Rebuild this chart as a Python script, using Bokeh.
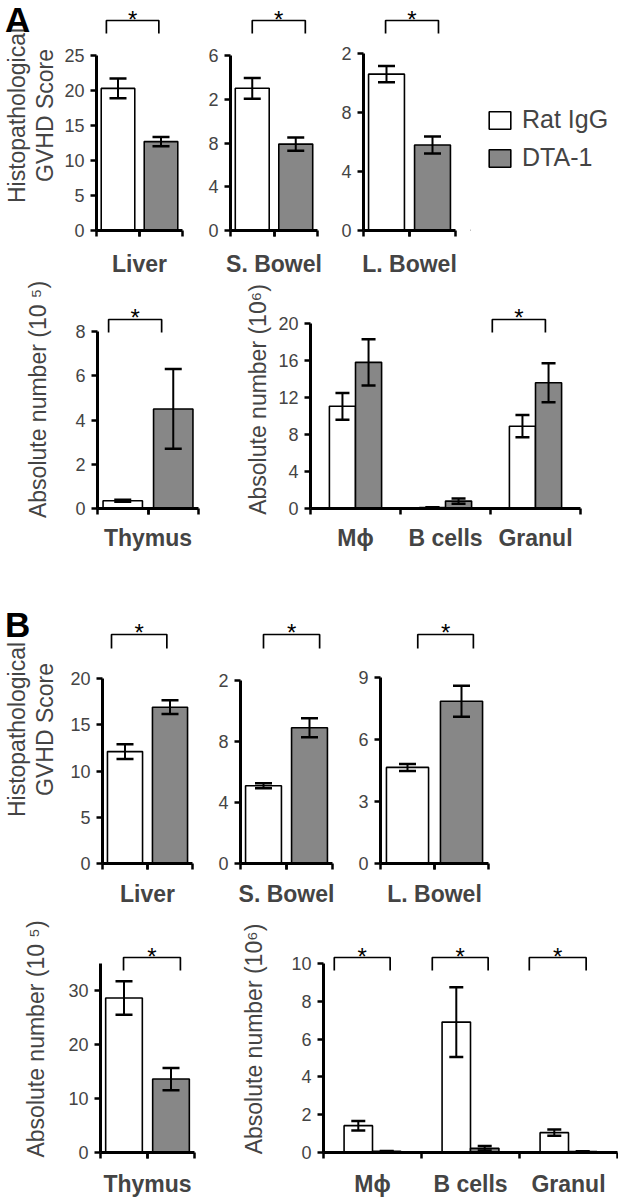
from bokeh.plotting import figure
from bokeh.models import (ColumnDataSource, FixedTicker, LinearAxis, Range1d, Whisker,
                          TeeHead, Legend, LegendItem, Div, GridBox)
from bokeh.layouts import row, column
from bokeh.embed import file_html
from bokeh.resources import INLINE
from bokeh.core.properties import value

# ------------------------------------------------------------------ data
GROUPS = ["Rat IgG", "DTA-1"]
HIST_ORGANS = ["Liver", "S. Bowel", "L. Bowel"]
THYMUS = ["Thymus"]
CELL_TYPES = ["M\u03d5", "B cells", "Granul"]
HIST_YLABEL = ["Histopathological", "GVHD Score"]
THYMUS_YLABEL = "Absolute number (10 \u2075)"
CELLS_YLABEL = "Absolute number (10\u2076)"
PANEL_LETTERS = ["A", "B"]

# Panel A
A_hist_ratigg = [20.3, 13.0, 10.6]
A_hist_ratigg_err = [1.4, 0.95, 0.55]
A_hist_dta1 = [12.7, 7.9, 5.8]
A_hist_dta1_err = [0.65, 0.6, 0.58]
A_hist_yticks = [[0, 5, 10, 15, 20, 25], [0, 4, 8, 12, 16], [0, 4, 8, 12]]
A_hist_yticklabels = [["0", "5", "10", "15", "20", "25"], ["0", "4", "8", "2", "6"], ["0", "4", "8", "2"]]
A_hist_sig = [True, True, True]

A_thymus_ratigg = [0.35]
A_thymus_ratigg_err = [0.05]
A_thymus_dta1 = [4.5]
A_thymus_dta1_err = [1.8]
A_thymus_yticks = [0, 2, 4, 6, 8]
A_thymus_sig = [True]

A_cells_ratigg = [11.05, 0.1, 8.9]
A_cells_ratigg_err = [1.45, 0.03, 1.2]
A_cells_dta1 = [15.8, 0.8, 13.6]
A_cells_dta1_err = [2.5, 0.28, 2.1]
A_cells_yticks = [0, 4, 8, 12, 16, 20]
A_cells_sig = [False, False, True]

# Panel B
B_hist_ratigg = [12.1, 5.1, 4.65]
B_hist_ratigg_err = [0.8, 0.17, 0.17]
B_hist_dta1 = [16.9, 8.9, 7.85]
B_hist_dta1_err = [0.75, 0.62, 0.75]
B_hist_yticks = [[0, 5, 10, 15, 20], [0, 4, 8, 12], [0, 3, 6, 9]]
B_hist_yticklabels = [["0", "5", "10", "15", "20"], ["0", "4", "8", "2"], ["0", "3", "6", "9"]]
B_hist_sig = [True, True, True]

B_thymus_ratigg = [28.6]
B_thymus_ratigg_err = [3.1]
B_thymus_dta1 = [13.6]
B_thymus_dta1_err = [2.05]
B_thymus_yticks = [0, 10, 20, 30]
B_thymus_axis_max = 35
B_thymus_sig = [True]

B_cells_ratigg = [1.42, 6.9, 1.05]
B_cells_ratigg_err = [0.25, 1.85, 0.17]
B_cells_dta1 = [0.06, 0.22, 0.05]
B_cells_dta1_err = [0.02, 0.12, 0.02]
B_cells_yticks = [0, 2, 4, 6, 8, 10]
B_cells_sig = [True, True, True]

# ------------------------------------------------------------------ style
FONT = "Liberation Sans"
GRAY = "#878787"
TICK_FS = "18px"
CAT_FS = "23px"
YLAB_FS = "23px"


def make_panel(cats, white, white_err, gray, gray_err, yticks, yticklabels, axis_max,
               sig, brackets, g, ylabel=None, ylabel_outer=None):
    single = len(cats) == 1
    n = len(cats)
    row_top, row_h = g["row"]
    f_top, f_bot = g["f_top"], g["f_bot"]
    ppu = g["ax_h"] / axis_max
    y_end = (f_bot - f_top) / ppu

    def yd(py):
        return (f_bot - py) / ppu

    if single:
        xr = (0, 2)
        xw, xg, bw = [0.5], [1.5], 0.78
        label_ticks = [1]
        bounds_ticks = [0, 1, 2]
        cap = 17
    else:
        xr = (0, n)
        xw = [i + 0.5 - 0.145 for i in range(n)]
        xg = [i + 0.5 + 0.145 for i in range(n)]
        bw = 0.29
        label_ticks = [i + 0.5 for i in range(n)]
        bounds_ticks = list(range(n + 1))
        cap = 14

    p = figure(width=g["w"], height=row_h, x_range=Range1d(*xr), y_range=Range1d(0, y_end),
               min_border_left=g["left"], min_border_right=g["right"],
               min_border_top=f_top - row_top, min_border_bottom=row_top + row_h - f_bot,
               toolbar_location=None, output_backend="svg",
               x_axis_type=None, y_axis_type=None)
    p.outline_line_color = None
    p.xgrid.visible = False
    p.ygrid.visible = False

    yax = LinearAxis(ticker=FixedTicker(ticks=yticks), bounds=(0, axis_max),
                     major_label_overrides={t: l for t, l in zip(yticks, yticklabels)},
                     axis_line_width=3, major_tick_line_width=2.5, major_tick_out=6,
                     major_tick_in=0, minor_tick_line_color=None,
                     major_label_text_font=FONT, major_label_text_font_size=TICK_FS,
                     major_label_standoff=g.get("tick_standoff", 6))
    if ylabel:
        yax.axis_label = ylabel
        yax.axis_label_text_font = FONT
        yax.axis_label_text_font_size = YLAB_FS
        yax.axis_label_text_font_style = "normal"
        yax.axis_label_standoff = g.get("ylab_standoff", 6)
    p.add_layout(yax, "left")
    if ylabel_outer:
        oax = LinearAxis(ticker=FixedTicker(ticks=[]), axis_line_color=None,
                         major_tick_out=0, major_tick_in=0, minor_tick_out=0,
                         major_label_standoff=0, axis_label=ylabel_outer,
                         axis_label_text_font=FONT, axis_label_text_font_size=YLAB_FS,
                         axis_label_text_font_style="normal", axis_label_standoff=0)
        p.add_layout(oax, "left")

    xax = LinearAxis(ticker=FixedTicker(ticks=label_ticks, minor_ticks=bounds_ticks),
                     major_label_overrides={t: c for t, c in zip(label_ticks, cats)},
                     axis_line_width=3,
                     major_tick_line_color="black" if single else None,
                     major_tick_line_width=2.5, major_tick_out=6, major_tick_in=0,
                     minor_tick_line_width=2.5, minor_tick_out=6, minor_tick_in=0,
                     major_label_text_font=FONT, major_label_text_font_size=CAT_FS,
                     major_label_text_font_style="bold", axis_label_standoff=0,
                     major_label_text_line_height=1.0,
                     major_label_standoff=g.get("cat_standoff", 12))
    p.add_layout(xax, "below")

    src_w = ColumnDataSource(dict(x=xw, top=white,
                                  upper=[v + e for v, e in zip(white, white_err)],
                                  lower=[v - e for v, e in zip(white, white_err)]))
    src_g = ColumnDataSource(dict(x=xg, top=gray,
                                  upper=[v + e for v, e in zip(gray, gray_err)],
                                  lower=[v - e for v, e in zip(gray, gray_err)]))
    rw = p.vbar(x="x", top="top", bottom=0, width=bw, source=src_w,
                fill_color="white", line_color="black", line_width=1.6)
    rg = p.vbar(x="x", top="top", bottom=0, width=bw, source=src_g,
                fill_color=GRAY, line_color="black", line_width=1.6)
    for src in (src_w, src_g):
        wk = Whisker(source=src, base="x", upper="upper", lower="lower",
                     line_width=2, line_color="black", level="overlay",
                     upper_head=TeeHead(size=cap, line_width=2.5, line_color="black"),
                     lower_head=TeeHead(size=cap, line_width=2.5, line_color="black"))
        p.add_layout(wk)

    xs, ys, sx, sy = [], [], [], []
    for i, s in enumerate(sig):
        if not s:
            continue
        off = 0 if single else i
        x0, x1 = brackets[i]
        xs.append([off + x0, off + x0, off + x1, off + x1])
        ys.append([yd(g["br_bot"]), yd(g["br_top"]), yd(g["br_top"]), yd(g["br_bot"])])
        sx.append(off + (x0 + x1) / 2)
        sy.append(yd(g["star"]))
    if xs:
        p.multi_line(xs=xs, ys=ys, line_color="black", line_width=1.7)
        p.text(x=sx, y=sy, text=["*"] * len(sx), text_align="center",
               text_baseline="alphabetic", text_font=value(FONT), text_font_size="24px",
               text_color="black")
    return p, rw, rg


def letter_cell(fig, letter, pad_top):
    div = Div(text=('<div style="margin-top:%dpx; font-family:\'Liberation Sans\', Arial, sans-serif;'
                    ' font-weight:bold; font-size:35px; line-height:35px; color:black;">%s</div>'
                    % (pad_top, letter)),
              width=34, height=max(36, pad_top + 38))
    return GridBox(children=[(fig, 0, 0), (div, 0, 0)])


# ------------------------------------------------------------------ geometry (page px)
RA1 = (0, 279)
RA2 = (279, 274)
RB1 = (553, 356)
RB2 = (909, 290)

gA1 = dict(row=RA1, f_top=0, f_bot=230, br_top=20, br_bot=33, star=19, cat_standoff=14)
gA2 = dict(row=RA2, f_top=290, f_bot=508, br_top=319, br_bot=332, star=317, cat_standoff=10)
gB1 = dict(row=RB1, f_top=595, f_bot=863, br_top=634, br_bot=648, star=632, cat_standoff=11)
gB2 = dict(row=RB2, f_top=925, f_bot=1152, br_top=957, br_bot=970, star=956, cat_standoff=12)

panels_A1 = []
A1_geom = [dict(w=195, left=95, right=13, ax_h=175, tick_standoff=6, ylab_standoff=3),
           dict(w=135, left=35, right=13, ax_h=175),
           dict(w=140, left=33, right=15, ax_h=177)]
A1_br = [(0.23, 1.45), (0.5, 1.72), (0.48, 1.63)]
for i in range(3):
    g = dict(gA1, **A1_geom[i])
    p, rw, rg = make_panel([HIST_ORGANS[i]], [A_hist_ratigg[i]], [A_hist_ratigg_err[i]],
                           [A_hist_dta1[i]], [A_hist_dta1_err[i]], A_hist_yticks[i],
                           A_hist_yticklabels[i], A_hist_yticks[i][-1], [A_hist_sig[i]],
                           [A1_br[i]], g,
                           ylabel=HIST_YLABEL[1] if i == 0 else None,
                           ylabel_outer=HIST_YLABEL[0] if i == 0 else None)
    panels_A1.append(p)
panels_A1[0] = letter_cell(panels_A1[0], PANEL_LETTERS[0], -3)

# legend panel (key swatches only; the proxies sit outside the visible range)
leg_fig = figure(width=148, height=RA1[1], x_range=Range1d(1, 2), y_range=Range1d(0, 1),
                 toolbar_location=None, output_backend="svg", x_axis_location=None,
                 y_axis_location=None, min_border_left=0, min_border_top=0,
                 min_border_right=0, min_border_bottom=RA1[0] + RA1[1] - gA1["f_bot"],
                 title=None)
leg_fig.outline_line_color = None
leg_fig.xgrid.visible = False
leg_fig.ygrid.visible = False
proxy = ColumnDataSource(dict(x=[0], top=[0]))
lw = leg_fig.vbar(x="x", top="top", width=0.1, source=proxy, fill_color="white",
                  line_color="black", line_width=1.6)
lg = leg_fig.vbar(x="x", top="top", width=0.1, source=proxy, fill_color=GRAY,
                  line_color="black", line_width=1.6)
legend = Legend(items=[LegendItem(label=GROUPS[0], renderers=[lw]),
                       LegendItem(label=GROUPS[1], renderers=[lg])],
                location=(16, 58), glyph_width=27, glyph_height=22, label_height=22,
                label_standoff=9, spacing=9, padding=0, margin=0,
                label_text_font=FONT, label_text_font_size="25px",
                border_line_color=None, background_fill_alpha=0)
leg_fig.add_layout(legend)
panels_A1.append(leg_fig)

gT = dict(gA2, w=238, left=97, right=40, ax_h=177, tick_standoff=6, ylab_standoff=21)
pTA, _, _ = make_panel(THYMUS, A_thymus_ratigg, A_thymus_ratigg_err, A_thymus_dta1,
                       A_thymus_dta1_err, A_thymus_yticks, [str(t) for t in A_thymus_yticks],
                       A_thymus_yticks[-1], A_thymus_sig, [(0.22, 1.27)], gT,
                       ylabel=THYMUS_YLABEL)
gC = dict(gA2, w=380, left=72, right=38, ax_h=185, tick_standoff=6, ylab_standoff=4)
pCA, _, _ = make_panel(CELL_TYPES, A_cells_ratigg, A_cells_ratigg_err, A_cells_dta1,
                       A_cells_dta1_err, A_cells_yticks, [str(t) for t in A_cells_yticks],
                       A_cells_yticks[-1], A_cells_sig,
                       [None, None, (0.02, 0.61)], gC, ylabel=CELLS_YLABEL)

panels_B1 = []
B1_geom = [dict(w=205, left=100, right=13, ax_h=185, tick_standoff=6, ylab_standoff=9),
           dict(w=140, left=35, right=13, ax_h=183),
           dict(w=273, left=35, right=130, ax_h=186)]
B1_br = [(0.2, 1.43), (0.5, 1.72), (0.69, 1.72)]
for i in range(3):
    g = dict(gB1, **B1_geom[i])
    p, _, _ = make_panel([HIST_ORGANS[i]], [B_hist_ratigg[i]], [B_hist_ratigg_err[i]],
                         [B_hist_dta1[i]], [B_hist_dta1_err[i]], B_hist_yticks[i],
                         B_hist_yticklabels[i], B_hist_yticks[i][-1], [B_hist_sig[i]],
                         [B1_br[i]], g,
                         ylabel=HIST_YLABEL[1] if i == 0 else None,
                         ylabel_outer=HIST_YLABEL[0] if i == 0 else None)
    panels_B1.append(p)
panels_B1[0] = letter_cell(panels_B1[0], PANEL_LETTERS[1], 49)

gTB = dict(gB2, w=238, left=100, right=44, ax_h=189, tick_standoff=6, ylab_standoff=16)
pTB, _, _ = make_panel(THYMUS, B_thymus_ratigg, B_thymus_ratigg_err, B_thymus_dta1,
                       B_thymus_dta1_err, B_thymus_yticks, [str(t) for t in B_thymus_yticks],
                       B_thymus_axis_max, B_thymus_sig, [(0.49, 1.7)], gTB,
                       ylabel=THYMUS_YLABEL)
gCB = dict(gB2, w=380, left=84, right=1, ax_h=189, tick_standoff=6, ylab_standoff=21)
pCB, _, _ = make_panel(CELL_TYPES, B_cells_ratigg, B_cells_ratigg_err, B_cells_dta1,
                       B_cells_dta1_err, B_cells_yticks, [str(t) for t in B_cells_yticks],
                       B_cells_yticks[-1], B_cells_sig,
                       [(0.11, 0.68), (0.11, 0.68), (0.1, 0.68)], gCB, ylabel=CELLS_YLABEL)

layout = column(row(*panels_A1), row(pTA, pCA), row(*panels_B1), row(pTB, pCB))

open("out.html", "w").write(file_html(layout, INLINE))
